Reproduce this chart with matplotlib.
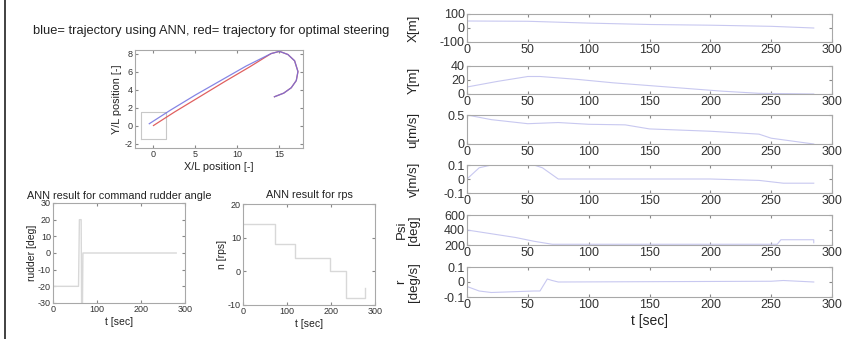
import numpy as np
import matplotlib.pyplot as plt
from matplotlib.lines import Line2D

plt.rcParams["font.family"] = ["Liberation Sans", "DejaVu Sans"]
plt.rcParams["axes.unicode_minus"] = False

# trajectory (X/L, Y/L)
ann_x = [-0.5, 2.0, 5.0, 8.0, 11.0, 14.0, 15.0, 16.0, 16.8, 17.2, 17.0, 16.4, 15.5, 14.4]
ann_y = [0.2, 1.7, 3.4, 5.0, 6.6, 8.0, 8.25, 7.9, 7.2, 6.0, 5.0, 4.2, 3.6, 3.2]
opt_x = [0.0, 2.5, 5.5, 8.5, 11.5, 14.0, 15.0, 16.0, 16.8, 17.2, 17.0, 16.4, 15.5, 14.4]
opt_y = [0.0, 1.5, 3.2, 4.9, 6.55, 8.0, 8.25, 7.9, 7.2, 6.0, 5.0, 4.2, 3.6, 3.2]
box_x = [-1.5, 1.5, 1.5, -1.5, -1.5]
box_y = [-1.5, -1.5, 1.5, 1.5, -1.5]

# ANN outputs
rudder_t = [0, 58, 60, 64, 65, 67, 68, 280]
rudder_deg = [-20, -20, 20, 20, -30, -30, 0, 0]
rps_t = [0, 72, 72, 118, 118, 197, 197, 235, 235, 278, 278]
rps_n = [14, 14, 8, 8, 4, 4, 0, 0, -8, -8, -5]

# time histories
t_x = [0, 50, 100, 150, 200, 250, 285]
x_m = [50, 48, 35, 25, 20, 12, 0]
t_y = [0, 25, 50, 60, 90, 120, 150, 180, 210, 240, 285]
y_m = [10, 18, 25, 25, 21, 16, 12, 8, 4, 1, 0]
t_u = [0, 20, 50, 75, 100, 130, 150, 200, 240, 250, 285]
u_ms = [0.5, 0.42, 0.35, 0.37, 0.34, 0.33, 0.26, 0.22, 0.17, 0.1, 0.0]
t_v = [0, 10, 20, 55, 62, 75, 200, 240, 260, 285]
v_ms = [0.0, 0.08, 0.1, 0.1, 0.08, 0.0, 0.0, -0.01, -0.03, -0.03]
t_psi = [0, 20, 40, 55, 70, 255, 258, 285, 285]
psi_deg = [400, 350, 300, 250, 210, 210, 270, 270, 230]
t_r = [0, 10, 20, 55, 60, 66, 70, 75, 250, 260, 285]
r_degs = [-0.03, -0.06, -0.07, -0.06, -0.06, 0.02, 0.01, 0.0, 0.005, 0.01, 0.0]

spine_c = "#a8a8a8"
text_c = "#333333"
faint = "#c8c8f0"


def matlab_style(ax, size):
    for s in ax.spines.values():
        s.set_color(spine_c)
        s.set_linewidth(0.8)
    ax.tick_params(direction="in", top=True, right=True, length=2,
                   width=0.8, color="#888888", labelsize=size,
                   labelcolor=text_c, pad=1.5)


fig = plt.figure(figsize=(8.54, 3.39), dpi=100)
W, H = 854.0, 339.0


def add_ax(l, r, t, b):
    return fig.add_axes([l / W, 1 - b / H, (r - l) / W, (b - t) / H])


# left border line
fig.add_artist(Line2D([5 / W, 5 / W], [0, 1], color="#333333", lw=1.3))

fig.text(211 / W, 1 - 31 / H,
         "blue= trajectory using ANN, red= trajectory for optimal steering",
         ha="center", va="center", fontsize=9.3, color="#222222")

ax = add_ax(135, 303, 50, 148)
ax.plot(box_x, box_y, color="#c8c8c8", lw=0.8)
ax.plot(opt_x, opt_y, color="#e06060", lw=0.9)
ax.plot(ann_x, ann_y, color="#7070e0", lw=0.9, alpha=0.85)
ax.set_xlim(-2.2, 17.8)
ax.set_ylim(-2.5, 8.4)
ax.set_xticks([0, 5, 10, 15])
ax.set_yticks([-2, 0, 2, 4, 6, 8])
ax.set_xlabel("X/L position [-]", fontsize=7.8, color="#222222", labelpad=2)
ax.set_ylabel("Y/L position [-]", fontsize=7.8, color="#222222", labelpad=2)
matlab_style(ax, 6.5)

ax = add_ax(53, 185, 203, 303)
ax.plot(rudder_t, rudder_deg, color="#d8d8d8", lw=1.0)
ax.set_xlim(0, 300)
ax.set_ylim(-30, 30)
ax.set_xticks([0, 100, 200, 300])
ax.set_yticks(range(-30, 31, 10))
ax.set_title("ANN result for command rudder angle", fontsize=7.8, color="#222222", pad=3)
ax.set_xlabel("t [sec]", fontsize=7.5, color="#222222", labelpad=2)
ax.set_ylabel("rudder [deg]", fontsize=7.5, color="#222222", labelpad=1)
matlab_style(ax, 6.5)

ax = add_ax(243, 375, 204, 305)
ax.plot(rps_t, rps_n, color="#d8d8d8", lw=1.0)
ax.set_xlim(0, 300)
ax.set_ylim(-10, 20)
ax.set_xticks([0, 100, 200, 300])
ax.set_yticks([-10, 0, 10, 20])
ax.set_title("ANN result for rps", fontsize=7.8, color="#222222", pad=4)
ax.set_xlabel("t [sec]", fontsize=7.5, color="#222222", labelpad=2)
ax.set_ylabel("n [rps]", fontsize=7.5, color="#222222", labelpad=1)
matlab_style(ax, 6.5)

# right column of time histories
rows = [
    (t_x, x_m, (-100, 100), [-100, 0, 100], "X[m]", 14, 42),
    (t_y, y_m, (0, 40), [0, 20, 40], "Y[m]", 66, 94),
    (t_u, u_ms, (0, 0.5), [0, 0.5], "u[m/s]", 115, 144),
    (t_v, v_ms, (-0.1, 0.1), [-0.1, 0, 0.1], "v[m/s]", 165, 193),
    (t_psi, psi_deg, (200, 600), [200, 400, 600], "Psi\n[deg]", 215, 245),
    (t_r, r_degs, (-0.1, 0.1), [-0.1, 0, 0.1], "r\n[deg/s]", 267, 297),
]
for tt, vals, lim, ticks, lab, top, bot in rows:
    ax = add_ax(467, 832, top, bot)
    ax.plot(tt, vals, color=faint, lw=0.8)
    ax.set_xlim(0, 300)
    ax.set_ylim(*lim)
    ax.set_xticks(range(0, 301, 50))
    ax.set_yticks(ticks)
    ax.set_yticklabels([f"{v:g}" for v in ticks])
    ax.set_ylabel(lab, fontsize=9.5, color="#222222", labelpad=2, linespacing=1.0)
    matlab_style(ax, 9)
    ax.yaxis.set_label_coords(-0.13, 0.5)

ax.set_xlabel("t [sec]", fontsize=10, color="#222222", labelpad=2)

fig.savefig("out.png", dpi=100, facecolor="white")
